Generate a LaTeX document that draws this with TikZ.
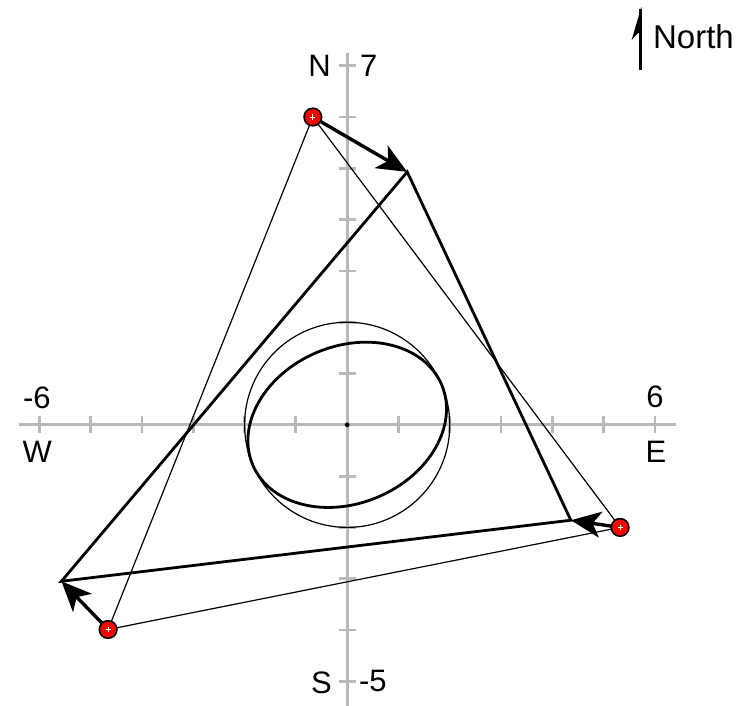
\documentclass[tikz,border=0pt]{standalone}
\usepackage{fontspec}
\setmainfont{Liberation Sans}
\usetikzlibrary{arrows.meta}
\begin{document}
\begin{tikzpicture}[x=25.65pt,y=25.65pt,
  axis/.style={line width=1.6pt, draw=gray!55},
  tickmark/.style={line width=1.4pt, draw=gray!55},
  lbl/.style={font=\fontsize{15.5}{18}\selectfont, inner sep=0pt},
  thinln/.style={line width=0.6pt},
  thickln/.style={line width=1.4pt},
  move/.style={line width=1.7pt, -{Stealth[length=15pt,width=13pt,inset=4pt]}},
  redpt/.style={circle, fill=red, draw=black, line width=0.8pt, minimum size=8.8pt, inner sep=0pt},
  plusmark/.style={draw=white, line width=0.35pt}
]
\useasboundingbox (-6.768,-5.481) rectangle (7.774,8.281);

% axes
\draw[axis] (-6.4,0) -- (6.4,0);
\draw[axis] (0,-5.481) -- (0,7.25);
\foreach \i in {-6,...,6} {\draw[tickmark] (\i,-0.166) -- (\i,0.166);}
\foreach \j in {-5,...,7} {\draw[tickmark] (-0.166,\j) -- (0.166,\j);}

% labels
\node[lbl] (lN) at (-0.54,7.0) {N};
\node[lbl] (l7) at (0.42,7.0) {7};
\node[lbl] (lS) at (-0.5,-5.02) {S};
\node[lbl] (lm5) at (0.5,-5.0) {-5};
\node[lbl] (lm6) at (-6.05,0.52) {-6};
\node[lbl] (lW) at (-6.04,-0.52) {W};
\node[lbl] (l6) at (6.0,0.54) {6};
\node[lbl] (lE) at (6.02,-0.52) {E};
\node[font=\fontsize{16.5}{19}\selectfont, inner sep=0pt] (lNorth) at (6.75,7.57) {North};

% compass arrow
\draw[line width=1.25pt] (5.721,6.92) -- (5.721,8.10);
\fill (5.735,8.15) -- (5.545,7.50) -- (5.67,7.64) -- (5.735,7.60) -- cycle;

% coordinates
\coordinate (O) at (0,0);
\coordinate (P1) at (-0.67,6.0);
\coordinate (P2) at (5.32,-2.0);
\coordinate (P3) at (-4.66,-3.99);
\coordinate (A1) at (1.17,4.93);
\coordinate (A2) at (4.36,-1.86);
\coordinate (A3) at (-5.57,-3.05);

% circle and ellipse
\draw[thinln] (O) circle (2);
\draw[thickln, rotate=23] (O) ellipse (2 and 1.53);
\fill (O) circle (1.2pt);

% thin triangle
\draw[thinln] (P1) -- (P2) -- (P3) -- cycle;
% thick triangle
\draw[thickln, line join=miter] (A1) -- (A2) -- (A3) -- cycle;

% moves
\draw[move] (P1) -- (A1);
\draw[move] (P2) -- (A2);
\draw[move] (P3) -- (A3);

% red points
\foreach \p in {P1,P2,P3} {
  \node[redpt] (n\p) at (\p) {};
  \draw[plusmark] ([xshift=-1.3pt]n\p.center) -- ([xshift=1.3pt]n\p.center);
  \draw[plusmark] ([yshift=-1.3pt]n\p.center) -- ([yshift=1.3pt]n\p.center);
}
\end{tikzpicture}
\end{document}
